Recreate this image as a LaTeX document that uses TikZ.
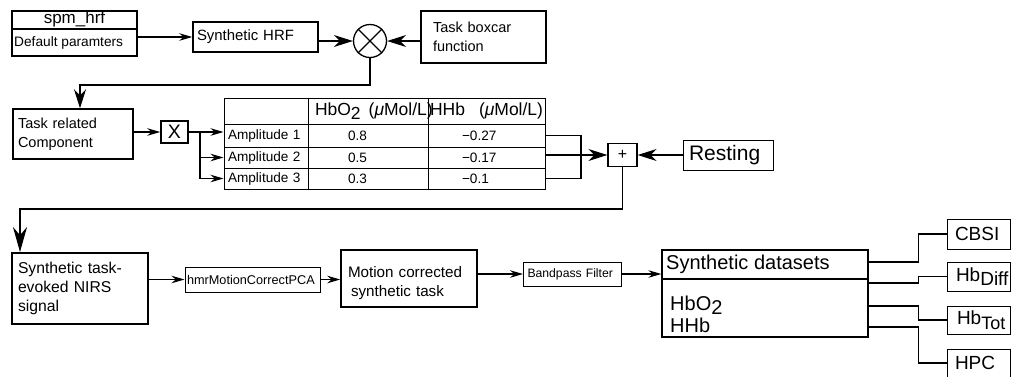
\documentclass[tikz,border=0pt]{standalone}
\usepackage{fontspec}
\setmainfont{Liberation Sans}
\usetikzlibrary{arrows.meta}
\newcommand{\sz}[2]{\fontsize{#1}{#2}\selectfont}
\newcommand{\dn}[1]{\raisebox{-0.45ex}{#1}}

\tikzset{
  box/.style={draw,line width=1.5pt,inner sep=0pt,align=left},
  thinbox/.style={box,line width=1pt},
  cell/.style={draw,line width=1pt,inner sep=0pt,align=left,font=\sz{13.6}{16}},
  conn/.style={line width=1.1pt},
  arr/.style={conn,-{Stealth[length=13pt,width=7.5pt]}},
  marr/.style={conn,-{Stealth[length=19pt,width=12pt]}},
  barr/.style={conn,line width=1.4pt,-{Stealth[length=25pt,width=14pt]}},
}

\begin{document}
\begin{tikzpicture}[x=1pt,y=-1pt]
\useasboundingbox (0,0) rectangle (1011,376);
% first row
\node[box,minimum width=125pt,minimum height=45pt] (spm) at (74.5,33.5) {};
\draw[box] ([yshift=4.5pt]spm.west) -- ([yshift=4.5pt]spm.east);
\node[font=\sz{17}{20}] (spmname) at (74.5,19.5) {spm\_hrf};
\node[font=\sz{13.7}{16},anchor=west,inner sep=0pt] (spmpar) at (14,43) {Default paramters};
\node[box,minimum width=125pt,minimum height=30pt,text width=117pt,font=\sz{14.9}{18}] (hrf) at (255.5,37) {Synthetic HRF};
\node[circle,draw,line width=1.3pt,minimum size=33pt,inner sep=0pt] (mult) at (370,41) {};
\draw[conn] (mult.45) -- (mult.225) (mult.135) -- (mult.315);
\node[box,minimum width=125pt,minimum height=52pt,text width=101pt,font=\sz{14.5}{19}] (task) at (483.5,37) {Task boxcar\\function};
\draw[arr] (spm.east |- hrf.west) -- (hrf.west);
\draw[marr] (hrf.east |- mult.west) -- (mult.west);
\draw[marr] (task.west |- mult.east) -- (mult.east);

% second row
\coordinate (loop1) at (80,85);
\node[box,minimum width=120pt,minimum height=50pt,text width=110pt,font=\sz{14.5}{19}] (comp) at (73,134) {Task related\\Component};
\draw[marr] (mult.south) |- (loop1) -- (loop1 |- comp.north);
\node[box,minimum width=27pt,minimum height=22pt,font=\sz{19.5}{20}] (scl) at (174.5,132) {X};
\draw[arr] (comp.east |- scl.west) -- (scl.west);

% table
\node[cell,minimum width=84pt,minimum height=26pt] (hd0) at (266,111) {};
\node[cell,minimum width=120pt,minimum height=26pt,text width=106pt,font=\sz{17.5}{19}] (hd1) at (368,111) {\mbox{HbO\dn{2}\hspace{8pt}(\textit{μ}Mol/L)}};
\node[cell,minimum width=117pt,minimum height=26pt,text width=113pt,font=\sz{17.5}{19}] (hd2) at (486.5,111) {\mbox{HHb\hspace{14pt}(\textit{μ}Mol/L)}};
\node[cell,minimum width=84pt,minimum height=23pt,text width=76pt] (a1) at (266,135.5) {\mbox{Amplitude 1}};
\node[cell,minimum width=120pt,minimum height=23pt,text width=40pt] (v1) at (368,135.5) {0.8};
\node[cell,minimum width=117pt,minimum height=23pt,text width=49pt] (h1) at (486.5,135.5) {−0.27};
\node[cell,minimum width=84pt,minimum height=21pt,text width=76pt] (a2) at (266,157.5) {\mbox{Amplitude 2}};
\node[cell,minimum width=120pt,minimum height=21pt,text width=40pt] (v2) at (368,157.5) {0.5};
\node[cell,minimum width=117pt,minimum height=21pt,text width=49pt] (h2) at (486.5,157.5) {−0.17};
\node[cell,minimum width=84pt,minimum height=21pt,text width=76pt] (a3) at (266,178.5) {\mbox{Amplitude 3}};
\node[cell,minimum width=120pt,minimum height=21pt,text width=40pt] (v3) at (368,178.5) {0.3};
\node[cell,minimum width=117pt,minimum height=21pt,text width=49pt] (h3) at (486.5,178.5) {−0.1};
\coordinate (br) at (200,132);
\draw[arr] (scl.east) -- (scl.east -| a1.west);
\draw[arr] (br) |- (a2.west);
\draw[arr] (br) |- (a3.west);

% sum
\coordinate (brk) at (581,155);
\draw[conn] (h1.east) -| (brk) |- (h3.east);
\node[box,line width=1.3pt,minimum width=29pt,minimum height=23pt,font=\sz{16}{18}] (plus) at (622.5,155) {+};
\draw[marr] (h2.east |- plus.west) -- (plus.west);
\node[thinbox,minimum width=90pt,minimum height=30pt,text width=78pt,font=\sz{21}{24}] (rest) at (728,155) {Resting};
\draw[marr] (rest.west) -- (plus.east);

% third row
\coordinate (loop2) at (20,209);
\node[box,line width=1.9pt,minimum width=136pt,minimum height=71pt,text width=124pt,font=\sz{15.7}{19}] (sig) at (80,288.5) {Synthetic task-\\evoked NIRS\\signal};
\draw[barr] (plus.south) |- (loop2) -- (loop2 |- sig.north);
\node[thinbox,minimum width=135pt,minimum height=25pt,text width=131pt,font=\sz{12.7}{15}] (pca) at (252.5,279.5) {hmrMotionCorrectPCA};
\draw[arr] (sig.east |- pca.west) -- (pca.west);
\node[box,minimum width=136pt,minimum height=57pt,text width=122pt,text depth=13pt,font=\sz{15.2}{19}] (mc) at (409,278.5) {Motion corrected\\\hspace*{3pt}synthetic task};
\draw[arr] (pca.east) -- (pca.east -| mc.west);
\node[thinbox,minimum width=98pt,minimum height=24pt,text width=90pt,font=\sz{12.2}{15}] (bp) at (572.5,274) {Bandpass Filter};
\draw[arr] (mc.east |- bp.west) -- (bp.west);
\node[box,line width=1.3pt,minimum width=206pt,minimum height=87pt] (sd) at (765,293.5) {};
\draw[box,line width=1.3pt] ([yshift=14.5pt]sd.west) -- ([yshift=14.5pt]sd.east);
\node[font=\sz{20}{24},anchor=west,inner sep=0pt] (sdt) at (666,264) {Synthetic datasets};
\node[font=\sz{20}{22},anchor=west,inner sep=0pt,align=left] (sdv) at (670,314) {HbO\dn{2}\\HHb};
\draw[arr] (bp.east) -- (bp.east -| sd.west);

% outputs
\node[thinbox,minimum width=63pt,minimum height=30pt,text width=47pt,font=\sz{19}{22}] (cbsi) at (978.5,234) {CBSI};
\node[thinbox,minimum width=63pt,minimum height=29pt,text width=45pt,font=\sz{19}{22}] (hbd) at (978.5,276.5) {\mbox{Hb\dn{Diff}}};
\node[thinbox,minimum width=63pt,minimum height=28pt,text width=43pt,font=\sz{19}{22}] (hbt) at (978.5,320) {\mbox{Hb\dn{\sz{18}{20}Tot}}};
\node[thinbox,minimum width=63pt,minimum height=28pt,text width=47pt,font=\sz{19}{22}] (hpc) at (978.5,363) {HPC};
\draw[conn] ([yshift=31.5pt]sd.east) -- ++(50,0) |- (cbsi.west);
\draw[conn] ([yshift=10.5pt]sd.east) -- ++(50,0) |- (hbd.west);
\draw[conn] ([yshift=-12.5pt]sd.east) -- ++(50,0) |- (hbt.west);
\draw[conn] ([yshift=-33.5pt]sd.east) -- ++(50,0) |- (hpc.west);
\end{tikzpicture}
\end{document}
